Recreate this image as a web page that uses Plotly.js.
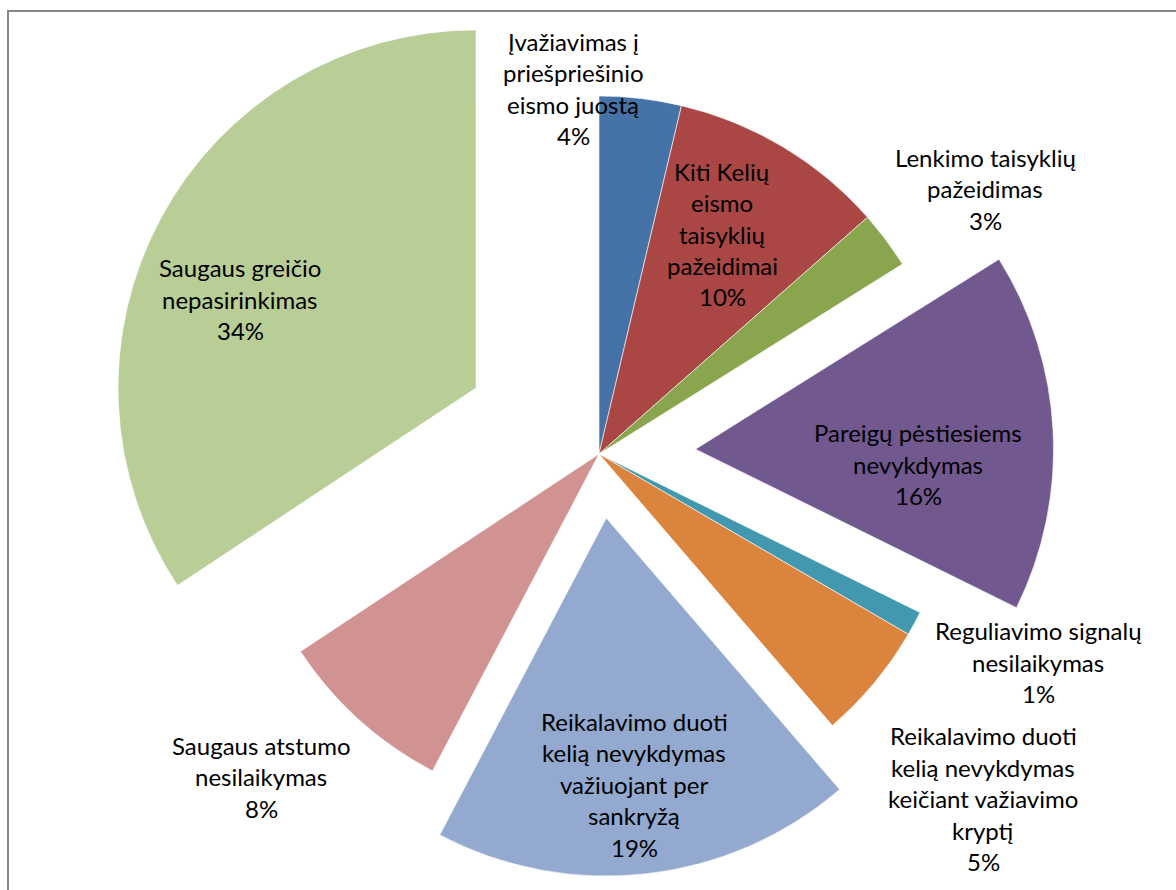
<!DOCTYPE html>
<html><head><meta charset="utf-8">
<script src="https://cdn.plot.ly/plotly-3.0.1.min.js"></script>
<style>
html,body{margin:0;padding:0;overflow:hidden;background:#fff;width:1176px;height:890px}
#wrap{position:absolute;left:0;top:0;width:1176px;height:890px;overflow:hidden}
#chart{position:absolute;left:0;top:-100px;width:1176px;height:1100px}
</style></head><body><div id="wrap"><div id="chart"></div></div>
<script>
// Categories (line breaks as in the reference)
const labels = [
  "Įvažiavimas į|priešpriešinio|eismo juostą",
  "Kiti Kelių|eismo|taisyklių|pažeidimai",
  "Lenkimo taisyklių|pažeidimas",
  "Pareigų pėstiesiems|nevykdymas",
  "Reguliavimo signalų|nesilaikymas",
  "Reikalavimo duoti|kelią nevykdymas|keičiant važiavimo|kryptį",
  "Reikalavimo duoti|kelią nevykdymas|važiuojant per|sankryžą",
  "Saugaus atstumo|nesilaikymas",
  "Saugaus greičio|nepasirinkimas"
];
// Shares (%)
const values = [3.7, 9.8, 2.6, 16.2, 1.1, 5.3, 19.0, 8.0, 34.3];
const colors = ["#4572A7", "#AA4643", "#89A54E", "#71588F", "#4198AF",
                "#DB843D", "#93A9CF", "#D19392", "#B9CD96"];
const pulls = [0, 0, 0, 0.27, 0, 0, 0.18, 0, 0.39];
// label block centres in window pixels
const labelPos = [[573, 88.5], [722, 234], [985, 188.5], [918, 464], [1038, 662],
                  [983, 798.5], [634, 784], [261, 776.5], [240, 299]];

const W = 1176, H = 1100, OFF = 100;
const R = 358, CX = 599, CY = 454;
const maxPull = Math.max(...pulls);
const half = R * (1 + maxPull);
const dom = {
  x: [(CX - half) / W, (CX + half) / W],
  y: [1 - (CY + OFF + half) / H, 1 - (CY + OFF - half) / H]
};

const total = values.reduce((a, b) => a + b, 0);
const annotations = [];
const LS = 31.5;
labels.forEach((lab, i) => {
  const lines = lab.split("|").concat([Math.round(values[i] / total * 100) + "%"]);
  const n = lines.length;
  lines.forEach((ln, k) => {
    const py = labelPos[i][1] + (k - (n - 1) / 2) * LS;
    annotations.push({
      text: ln, showarrow: false, xref: "paper", yref: "paper",
      x: labelPos[i][0] / W, y: 1 - (py + OFF) / H,
      xanchor: "center", yanchor: "middle",
      font: {family: "Lato, 'Liberation Sans', sans-serif", size: 24, color: "#000"}
    });
  });
});

const trace = {
  type: "pie",
  labels: labels.map(l => l.replace(/\|/g, " ")),
  values: values,
  sort: false,
  direction: "clockwise",
  rotation: 0,
  pull: pulls,
  marker: {colors: colors, line: {color: "#ffffff", width: 0.6}},
  textinfo: "none",
  hoverinfo: "label+percent",
  domain: dom,
  showlegend: false
};

const layout = {
  width: W, height: H,
  margin: {l: 0, r: 0, t: 0, b: 0},
  paper_bgcolor: "#ffffff",
  showlegend: false,
  annotations: annotations,
  shapes: [{
    type: "rect", xref: "paper", yref: "paper",
    x0: 8 / W, x1: 1.05, y0: -0.05, y1: 1 - (11 + OFF) / H,
    line: {color: "#868686", width: 2}, fillcolor: "rgba(0,0,0,0)", layer: "below"
  }]
};

Plotly.newPlot("chart", [trace], layout, {displayModeBar: false, staticPlot: true});
</script></body></html>
